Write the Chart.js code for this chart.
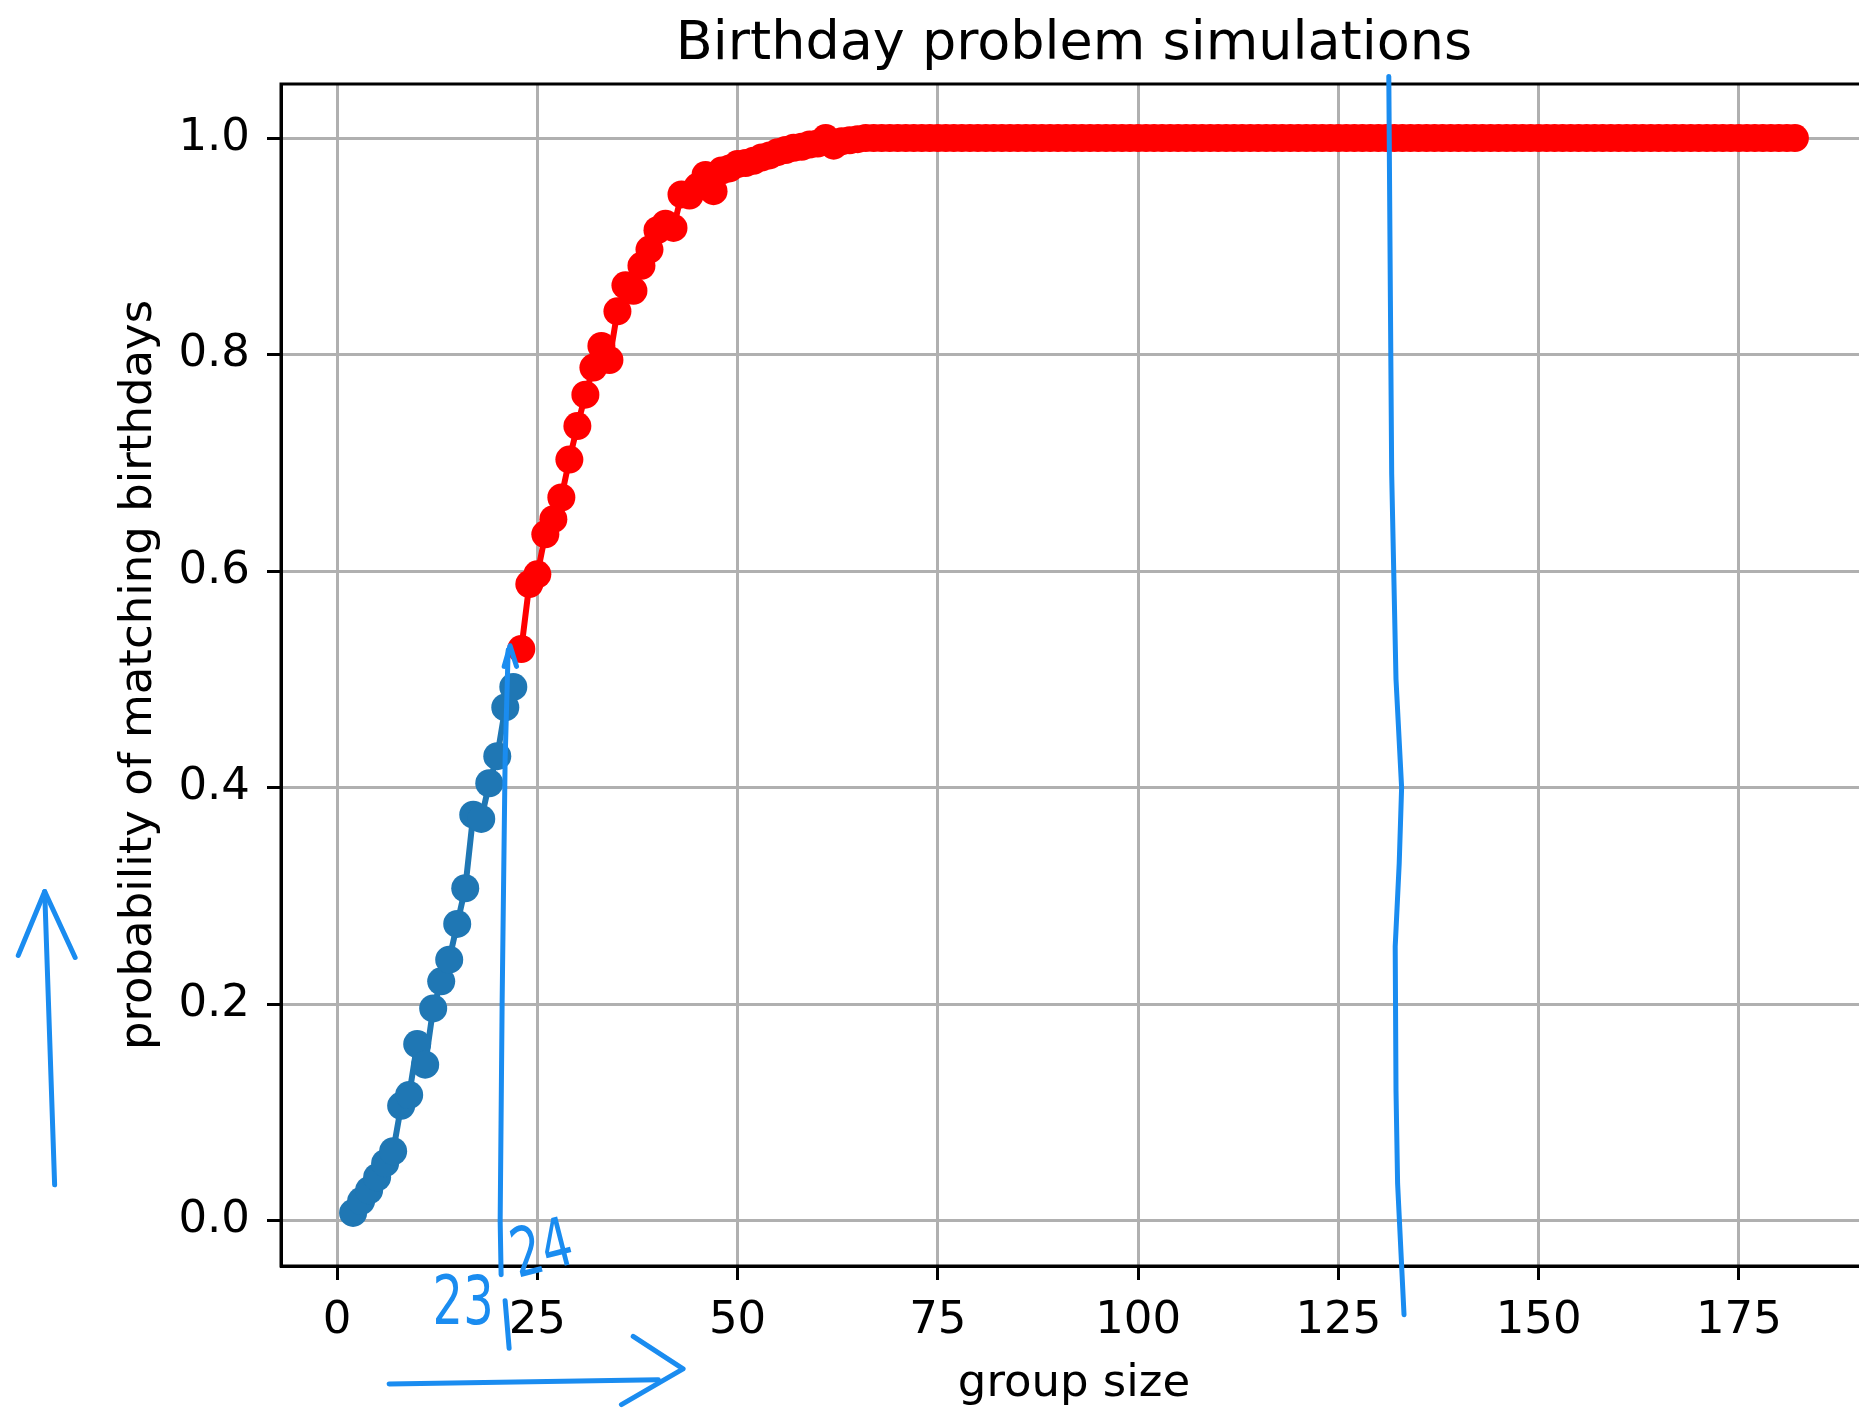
<!DOCTYPE html>
<html>
<head>
<meta charset="utf-8">
<script src="https://cdn.jsdelivr.net/npm/chart.js@4.4.0/dist/chart.umd.min.js"></script>
<style>
html, body { margin: 0; padding: 0; overflow: hidden; background: #ffffff; }
#wrap { position: relative; width: 1900px; height: 1408px; }
</style>
</head>
<body>
<div id="wrap"><canvas id="c" width="1900" height="1408"></canvas></div>
<script>
// ---- data ----
const blueX = [2, 3, 4, 5, 6, 7, 8, 9, 10, 11, 12, 13, 14, 15, 16, 17, 18, 19, 20, 21, 22];
const blueY = [0.007, 0.018, 0.028, 0.040, 0.053, 0.064, 0.106, 0.116, 0.163, 0.144, 0.196,
               0.221, 0.241, 0.274, 0.307, 0.375, 0.371, 0.404, 0.429, 0.474, 0.493];

const redX = [23, 24, 25, 26, 27, 28, 29, 30, 31, 32, 33, 34, 35, 36, 37, 38, 39, 40, 41, 42,
              43, 44, 45, 46, 47, 48, 49, 50, 51, 52, 53, 54, 55, 56, 57, 58, 59, 60, 61, 62,
              63, 64, 65, 66, 67, 68, 69, 70, 71, 72, 73, 74, 75, 76, 77, 78, 79, 80, 81, 82,
              83, 84, 85, 86, 87, 88, 89, 90, 91, 92, 93, 94, 95, 96, 97, 98, 99, 100, 101, 102,
              103, 104, 105, 106, 107, 108, 109, 110, 111, 112, 113, 114, 115, 116, 117, 118, 119, 120, 121, 122,
              123, 124, 125, 126, 127, 128, 129, 130, 131, 132, 133, 134, 135, 136, 137, 138, 139, 140, 141, 142,
              143, 144, 145, 146, 147, 148, 149, 150, 151, 152, 153, 154, 155, 156, 157, 158, 159, 160, 161, 162,
              163, 164, 165, 166, 167, 168, 169, 170, 171, 172, 173, 174, 175, 176, 177, 178, 179, 180, 181, 182];
const redY = [0.528, 0.588, 0.597, 0.634, 0.648, 0.668, 0.703, 0.734, 0.763, 0.788, 0.808, 0.795, 0.840, 0.864, 0.859, 0.882, 0.897, 0.915, 0.921, 0.917,
              0.948, 0.947, 0.955, 0.966, 0.951, 0.970, 0.972, 0.976, 0.977, 0.979, 0.982, 0.984, 0.987, 0.989, 0.991, 0.992, 0.994, 0.995, 1.000, 0.993,
              0.997, 0.998, 0.999, 1, 1, 1, 1, 1, 1, 1, 1, 1, 1, 1, 1, 1, 1, 1, 1, 1,
              1, 1, 1, 1, 1, 1, 1, 1, 1, 1, 1, 1, 1, 1, 1, 1, 1, 1, 1, 1,
              1, 1, 1, 1, 1, 1, 1, 1, 1, 1, 1, 1, 1, 1, 1, 1, 1, 1, 1, 1,
              1, 1, 1, 1, 1, 1, 1, 1, 1, 1, 1, 1, 1, 1, 1, 1, 1, 1, 1, 1,
              1, 1, 1, 1, 1, 1, 1, 1, 1, 1, 1, 1, 1, 1, 1, 1, 1, 1, 1, 1,
              1, 1, 1, 1, 1, 1, 1, 1, 1, 1, 1, 1, 1, 1, 1, 1, 1, 1, 1, 1];

const xTicks = [0, 25, 50, 75, 100, 125, 150, 175];
const yTicks = [0.0, 0.2, 0.4, 0.6, 0.8, 1.0];

const titleText = 'Birthday problem simulations';
const xLabel = 'group size';
const yLabel = 'probability of matching birthdays';
const noteTexts = ['23', '24'];

// ---- chart ----
const FONT = 'DejaVu Sans';
const toPoints = (xs, ys) => xs.map((x, i) => ({ x: x, y: ys[i] }));

// frame around the plot area (matplotlib spines)
const framePlugin = {
  id: 'frame',
  afterDraw(chart) {
    const a = chart.chartArea, ctx = chart.ctx;
    ctx.save();
    ctx.strokeStyle = '#000000';
    ctx.lineWidth = 3;
    ctx.strokeRect(a.left, a.top, a.right - a.left, a.bottom - a.top);
    ctx.restore();
  }
};

// hand-drawn blue annotations (in data units, mapped through the scales)
const inkPlugin = {
  id: 'ink',
  afterDraw(chart) {
    const ctx = chart.ctx, sx = chart.scales.x, sy = chart.scales.y;
    const P = (p) => [sx.getPixelForValue(p[0]), sy.getPixelForValue(p[1])];
    const strokes = [
      [[21.36, 0.527], [20.98, 0.426], [20.61, 0.204], [20.36, 0.0], [20.48, -0.050]],
      [[20.86, 0.512], [21.6, 0.531], [22.4, 0.512]],
      [[20.98, -0.074], [21.48, -0.118]],
      [[131.3, 1.057], [131.5, 0.85], [131.66, 0.690], [132.2, 0.50], [132.9, 0.40], [132.6, 0.33], [132.1, 0.253], [132.2, 0.12], [132.4, 0.034], [133.2, -0.087]],
      [[-35.26, 0.033], [-36.5, 0.304]],
      [[-39.8, 0.245], [-36.5, 0.304], [-32.7, 0.243]],
      [[6.5, -0.151], [40.1, -0.147]],
      [[36.97, -0.107], [43.2, -0.137], [35.5, -0.170]]
    ];
    ctx.save();
    ctx.strokeStyle = '#1a8cf0';
    ctx.fillStyle = '#1a8cf0';
    ctx.lineWidth = 5;
    ctx.lineCap = 'round';
    ctx.lineJoin = 'round';
    strokes.forEach(s => {
      ctx.beginPath();
      s.forEach((p, i) => {
        const q = P(p);
        if (i === 0) ctx.moveTo(q[0], q[1]); else ctx.lineTo(q[0], q[1]);
      });
      ctx.stroke();
    });
    const notes = [
      { text: noteTexts[0], at: [15.74, -0.079], rot: 0 },
      { text: noteTexts[1], at: [25.7, -0.030], rot: -0.25 }
    ];
    ctx.font = '80px "' + FONT + '"';
    ctx.textAlign = 'center';
    ctx.textBaseline = 'middle';
    notes.forEach(n => {
      const q = P(n.at);
      ctx.save();
      ctx.translate(q[0], q[1]);
      ctx.rotate(n.rot);
      ctx.scale(0.6, 0.85);
      ctx.fillText(n.text, 0, 0);
      ctx.restore();
    });
    ctx.restore();
  }
};

new Chart(document.getElementById('c'), {
  type: 'line',
  data: {
    datasets: [
      {
        label: 'simulated (red)',
        data: toPoints(redX, redY),
        borderColor: '#ff0000',
        backgroundColor: '#ff0000',
        pointBackgroundColor: '#ff0000',
        borderWidth: 6,
        pointRadius: 14,
        pointHoverRadius: 14,
        pointBorderWidth: 0,
        tension: 0,
        order: 0
      },
      {
        label: 'simulated (blue)',
        data: toPoints(blueX, blueY),
        borderColor: '#1f77b4',
        backgroundColor: '#1f77b4',
        pointBackgroundColor: '#1f77b4',
        borderWidth: 6,
        pointRadius: 14,
        pointHoverRadius: 14,
        pointBorderWidth: 0,
        tension: 0,
        order: 1
      }
    ]
  },
  options: {
    responsive: false,
    animation: false,
    events: [],
    layout: { padding: { top: 0, left: 0, right: 33, bottom: 0 }, autoPadding: false },
    plugins: {
      legend: { display: false },
      tooltip: { enabled: false },
      title: {
        display: true,
        text: titleText,
        fullSize: false,
        color: '#000000',
        font: { family: FONT, size: 54, weight: 'normal', lineHeight: 1 },
        padding: { top: 18, bottom: 12 }
      }
    },
    scales: {
      x: {
        type: 'linear',
        min: -7,
        max: 191,
        afterFit(s) { s.height = 142; },
        afterBuildTicks(s) { s.ticks = xTicks.map(v => ({ value: v })); },
        grid: { color: '#b0b0b0', lineWidth: 3, drawTicks: true, tickLength: 14, tickColor: '#000000', tickWidth: 3 },
        border: { display: true, color: '#000000', width: 3 },
        ticks: {
          color: '#000000',
          font: { family: FONT, size: 45 },
          padding: 14,
          maxRotation: 0,
          autoSkip: false,
          callback: v => String(v)
        },
        title: {
          display: true,
          text: xLabel,
          color: '#000000',
          font: { family: FONT, size: 45, lineHeight: 1 },
          padding: { top: 0, bottom: 1 }
        }
      },
      y: {
        type: 'linear',
        min: -0.042,
        max: 1.05,
        afterFit(s) { s.width = 281; },
        afterBuildTicks(s) { s.ticks = yTicks.map(v => ({ value: v })); },
        grid: { color: '#b0b0b0', lineWidth: 3, drawTicks: true, tickLength: 14, tickColor: '#000000', tickWidth: 3 },
        border: { display: true, color: '#000000', width: 3 },
        ticks: {
          color: '#000000',
          font: { family: FONT, size: 45 },
          padding: 17,
          autoSkip: false,
          callback: v => Number(v).toFixed(1)
        },
        title: {
          display: true,
          text: yLabel,
          color: '#000000',
          font: { family: FONT, size: 45, lineHeight: 1 },
          padding: { top: 117, bottom: 0 }
        }
      }
    }
  },
  plugins: [framePlugin, inkPlugin]
});
</script>
</body>
</html>
